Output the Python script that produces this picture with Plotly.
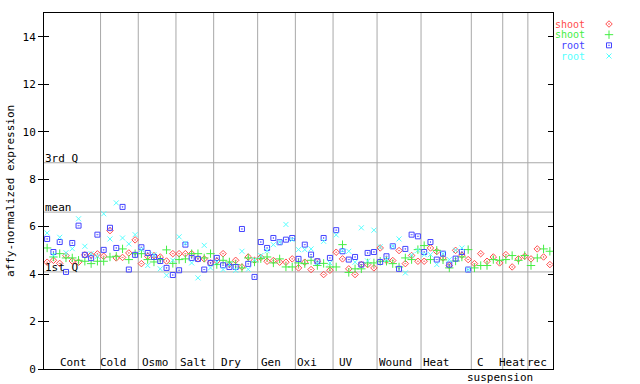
import plotly.graph_objects as go

W, H = 640, 384
# plot box in pixels
PL, PR, PT, PB = 44, 553, 13, 369

groups = ["Cont", "Cold", "Osmo", "Salt", "Dry", "Gen", "Oxi", "UV", "Wound", "Heat", "C", "Heat", "rec"]
group_sizes = [9, 6, 6, 6, 7, 6, 6, 7, 7, 8, 5, 4, 4]

shoot_a = [4.50, 4.58, 4.45, 4.78, 4.55, 4.50, 4.81, 4.80, 4.85, 4.75,
           5.83, 4.68, 4.70, 4.89, 5.44, 4.44, 4.75, 4.78, 4.72, 4.55,
           4.86, 4.86, 4.86, 4.86, 4.64, 4.64, 4.47, 4.55, 4.86, 4.40,
           4.58, 4.30, 4.72, 4.58, 4.70, 4.54, 4.57, 4.50, 4.50, 4.64,
           4.26, 4.50, 4.19, 4.54, 3.98, 4.16, 4.92, 4.64, 4.22, 3.98,
           4.40, 4.40, 4.26, 5.10, 4.57, 4.57, 4.99, 4.44, 4.78, 4.54,
           4.54, 5.10, 4.95, 4.68, 4.36, 5.00, 4.80, 4.61, 4.44, 4.86,
           4.54, 4.72, 4.47, 4.82, 4.30, 4.64, 4.75, 4.64, 5.06, 4.72, 4.40]
shoot_b = [5.10, 4.72, 4.86, 4.68, 4.68, 4.58, 4.54, 4.44, 4.54, 4.54,
           4.72, 4.75, 5.06, 4.61, 4.86, 4.86, 4.61, 4.51, 4.61, 5.02,
           4.45, 4.61, 4.64, 4.86, 4.86, 4.68, 4.86, 4.40, 4.58, 4.51,
           4.40, 4.26, 4.68, 4.51, 4.65, 4.72, 4.47, 4.64, 4.30, 4.30,
           4.47, 4.44, 4.58, 4.36, 4.45, 4.30, 4.30, 5.24, 4.07, 4.22,
           4.22, 4.47, 4.47, 4.54, 4.54, 4.44, 4.30, 4.68, 4.61, 5.03,
           5.20, 4.61, 5.00, 4.60, 4.26, 4.55, 4.72, 5.03, 4.26, 4.36,
           4.36, 4.61, 4.58, 4.61, 4.78, 4.58, 4.78, 4.36, 4.68, 5.06, 4.96]
root_a = [5.48, 4.93, 5.35, 4.09, 5.31, 6.04, 4.81, 4.67, 5.66, 5.02,
          5.95, 5.10, 6.83, 4.19, 4.81, 5.13, 4.89, 4.72, 4.55, 4.26,
          3.96, 4.16, 5.24, 4.68, 4.64, 4.19, 4.47, 4.68, 4.37, 4.30,
          4.30, 5.90, 4.43, 3.88, 5.35, 5.10, 5.52, 5.34, 5.45, 5.52,
          4.64, 5.24, 4.82, 4.54, 5.52, 4.68, 5.85, 4.96, 4.61, 4.72,
          4.40, 4.89, 4.93, 4.51, 4.75, 5.17, 4.22, 5.06, 5.66, 5.59,
          4.93, 5.35, 4.61, 4.86, 4.40, 4.65, 4.93, 4.19]
root_b = [5.73, 4.80, 5.55, 4.90, 5.07, 6.33, 5.17, 4.86, 4.75, 6.54,
          5.48, 7.00, 5.52, 5.27, 5.66, 5.03, 4.36, 4.82, 4.22, 3.95,
          4.58, 5.57, 5.30, 4.47, 3.84, 5.21, 4.26, 4.50, 4.19, 4.40,
          4.16, 4.96, 4.20, 4.60, 4.78, 4.98, 5.24, 5.34, 6.09, 5.45,
          5.03, 5.03, 5.06, 4.47, 5.38, 4.47, 5.65, 4.99, 4.96, 4.50,
          5.95, 4.55, 5.85, 5.15, 4.61, 5.17, 5.48, 4.05, 4.80, 5.00,
          4.82, 4.82, 4.40, 4.86, 4.61, 5.00, 5.10, 4.19]

q3_value, mean_value, q1_value = 8.69, 6.61, 4.09
y_ticks = [0, 2, 4, 6, 8, 10, 12, 14]

series = [
    ("shoot", shoot_a, "#ff4c4c", "diamond-open-dot", 5),
    ("shoot", shoot_b, "#44ee44", "cross-thin-open", 6),
    ("root", root_a, "#4444ff", "square-open-dot", 5),
    ("root", root_b, "#55ffff", "x-thin-open", 5),
]

FONT = "DejaVu Sans Mono"
n = len(shoot_a)
xs = list(range(1, n + 1))

fig = go.Figure()
for name, vals, col, sym, sz in series:
    fig.add_trace(go.Scatter(
        x=xs[:len(vals)], y=vals, mode="markers", name=name, showlegend=False,
        marker=dict(symbol=sym, size=sz, color=col, line=dict(width=1, color=col)),
        xaxis="x", yaxis="y"))

# legend symbols
for k, (name, vals, col, sym, sz) in enumerate(series):
    fig.add_trace(go.Scatter(
        x=[0.5], y=[3 - k], mode="markers", showlegend=False, hoverinfo="skip",
        marker=dict(symbol=sym, size=sz, color=col, line=dict(width=1, color=col)),
        xaxis="x3", yaxis="y3"))

def fx(px):
    return px / W

def fy(py):
    return 1 - py / H

shapes = []
bounds = []
acc = 0
for s in group_sizes[:-1]:
    acc += s
    bounds.append(acc + 0.5)
for b in bounds:
    shapes.append(dict(type="line", xref="x", yref="y domain", x0=b, x1=b, y0=0, y1=1,
                       line=dict(color="#a8a8a8", width=1), layer="below"))
for v in (q3_value, mean_value, q1_value):
    shapes.append(dict(type="line", xref="x domain", yref="y", x0=0, x1=1, y0=v, y1=v,
                       line=dict(color="#a8a8a8", width=1), layer="below"))

annotations = []
# group labels (pixel centres)
label_px = [73, 113, 155, 193, 231, 271, 307, 346, 395, 436, 480, 512, 537]
for g, px in zip(groups, label_px):
    annotations.append(dict(text=g, xref="paper", yref="paper", x=fx(px), y=fy(362),
                            xanchor="center", yanchor="middle", showarrow=False, height=11,
                            font=dict(family=FONT, size=11, color="black")))
annotations.append(dict(text="suspension", xref="paper", yref="paper", x=fx(500), y=fy(377),
                        xanchor="center", yanchor="middle", showarrow=False, height=11,
                        font=dict(family=FONT, size=11, color="black")))
for txt, v in (("3rd Q", q3_value), ("mean", mean_value), ("1st Q", q1_value)):
    annotations.append(dict(text=txt, xref="paper", yref="y", x=fx(43), y=v,
                            xanchor="left", yanchor="bottom", yshift=-4, showarrow=False,
                            font=dict(family=FONT, size=11, color="black")))
annotations.append(dict(text="affy-normalized expression", xref="paper", yref="paper",
                        x=fx(11), y=fy(191), textangle=-90, xanchor="center", yanchor="middle",
                        showarrow=False, font=dict(family=FONT, size=11, color="black")))
legend_rows = [24, 34.7, 45.3, 56]
for (name, vals, col, sym, sz), py in zip(series, legend_rows):
    annotations.append(dict(text=name, xref="paper", yref="paper", x=fx(587), y=fy(py),
                            xanchor="right", yanchor="middle", showarrow=False, height=9,
                            font=dict(family=FONT, size=10, color=col)))

fig.update_layout(
    width=W, height=H, margin=dict(l=0, r=0, t=0, b=0, autoexpand=False),
    paper_bgcolor="white", plot_bgcolor="white",
    font=dict(family=FONT, size=11, color="black"),
    xaxis=dict(domain=[fx(PL), fx(PR)], range=[0.5, n + 0.5], showgrid=False, zeroline=False,
               showline=True, linecolor="black", linewidth=1, mirror=True, automargin=False,
               showticklabels=False, ticks="", anchor="y"),
    yaxis=dict(domain=[fy(PB), fy(PT)], range=[0, 15], tickvals=y_ticks, showgrid=False,
               zeroline=False, showline=True, linecolor="black", linewidth=1, mirror=True,
               ticks="outside", ticklen=5, tickcolor="black", anchor="x", automargin=False,
               tickfont=dict(family=FONT, size=11, color="black")),
    yaxis2=dict(domain=[fy(PB), fy(PT)], range=[0, 15], tickvals=y_ticks, overlaying="y",
                showgrid=False, zeroline=False, showline=False, ticks="inside", ticklen=5,
                tickcolor="black", mirror="ticks", showticklabels=False, anchor="x",
                automargin=False),
    xaxis3=dict(domain=[fx(600), fx(618)], range=[0, 1], visible=False, anchor="y3",
                automargin=False),
    yaxis3=dict(domain=[fy(61.33), fy(18.67)], range=[-0.5, 3.5], visible=False, anchor="x3",
                automargin=False),
    shapes=shapes, annotations=annotations,
)
# dummy trace so yaxis2 renders
fig.add_trace(go.Scatter(x=[None], y=[None], xaxis="x", yaxis="y2", showlegend=False))

fig.write_html("out.html", config={"displayModeBar": False},
               post_script="document.body.style.margin='0';document.body.style.overflow='hidden';")
